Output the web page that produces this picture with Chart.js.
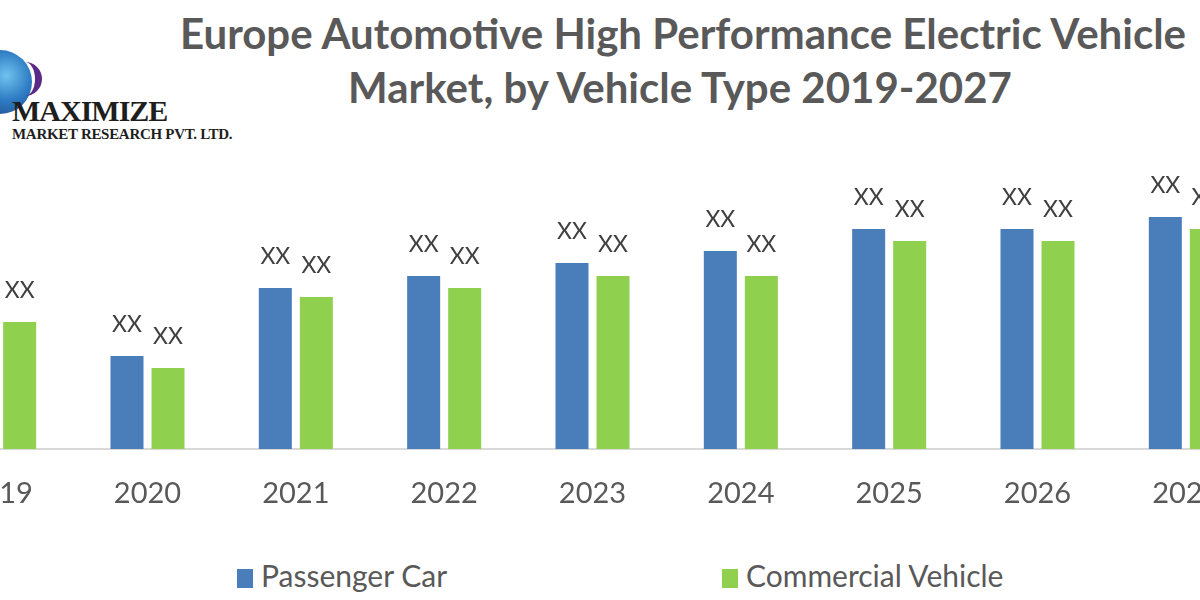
<html>
<head>
    <meta charset="utf-8">
    <script src="https://cdn.jsdelivr.net/npm/chart.js@4.4.1/dist/chart.umd.min.js"></script>
    <style>
        body { margin: 0; width: 1200px; height: 600px; overflow: hidden; background: #fff; position: relative; font-family: Lato, sans-serif; }
        #title { position: absolute; left: 180px; width: 1000px; top: 6px; text-align: center; color: #595959; font: bold 42px/54px Lato, sans-serif; white-space: nowrap; }
        #globe { position: absolute; left: -32px; top: 50px; width: 64px; height: 64px; border-radius: 50%; background: radial-gradient(circle at 60% 40%, #6fc3ee 0%, #2e7cc4 45%, #1b3e7a 100%); }
        #crescent { position: absolute; left: 8px; top: 62px; width: 34px; height: 34px; border-radius: 50%; border-right: 7px solid #5b2a86; box-sizing: border-box; }
        #logo1 { position: absolute; left: 12px; top: 94px; font: bold 30px "Liberation Serif", serif; color: #1e1e1e; letter-spacing: -1px; }
        #logo2 { position: absolute; left: 12px; top: 126px; font: bold 15px "Liberation Serif", serif; color: #1e1e1e; letter-spacing: -0.3px; }
        #chartBox { position: absolute; left: -75px; top: 149px; }
        .legend { position: absolute; top: 557px; font: 30px Lato, sans-serif; color: #595959; }
        .legend span { display: inline-block; width: 16px; height: 19px; margin-right: 8px; vertical-align: -1px; }
    </style>
</head>
<body>
<div id="globe"></div>
<div id="crescent"></div>
<div id="logo1">MAXIMIZE</div>
<div id="logo2">MARKET RESEARCH PVT. LTD.</div>
<div id="title">Europe Automotive High Performance Electric Vehicle<br>Market, by Vehicle Type 2019-2027</div>
<div id="chartBox"><canvas id="barChart" width="1335" height="380"></canvas></div>
<div class="legend" style="left:237px"><span style="background:#4a7ebb"></span>Passenger Car</div>
<div class="legend" style="left:722px"><span style="background:#8fd14f"></span>Commercial Vehicle</div>

<script type="text/javascript">
    const years = ['2019', '2020', '2021', '2022', '2023', '2024', '2025', '2026', '2027'];
    const passengerCar = [14.0, 9.3, 16.1, 17.3, 18.6, 19.8, 22.0, 22.0, 23.2];
    const commercialVehicle = [12.7, 8.1, 15.2, 16.1, 17.3, 17.3, 20.8, 20.8, 22.0];
    const valueLabel = 'XX';

    // draws the "XX" text above every bar
    const barLabels = {
        id: 'barLabels',
        afterDatasetsDraw(chart) {
            const ctx = chart.ctx;
            ctx.save();
            ctx.font = '23px Lato, sans-serif';
            ctx.fillStyle = '#404040';
            ctx.textAlign = 'center';
            ctx.textBaseline = 'alphabetic';
            chart.data.datasets.forEach((ds, i) => {
                chart.getDatasetMeta(i).data.forEach((bar) => {
                    ctx.fillText(valueLabel, bar.x, bar.y - 24);
                });
            });
            ctx.restore();
        }
    };

    new Chart(document.getElementById('barChart'), {
        type: 'bar',
        data: {
            labels: years,
            datasets: [{
                label: 'Passenger Car',
                data: passengerCar,
                backgroundColor: '#4a7ebb',
                barPercentage: 0.805,
                categoryPercentage: 0.553
            },
            {
                label: 'Commercial Vehicle',
                data: commercialVehicle,
                backgroundColor: '#8fd14f',
                barPercentage: 0.805,
                categoryPercentage: 0.553
            }]
        },
        options: {
            responsive: false,
            animation: false,
            devicePixelRatio: 1,
            layout: { padding: 0 },
            scales: {
                x: {
                    grid: { display: false, drawTicks: false, tickLength: 0 },
                    border: { display: true, color: '#d9d9d9', width: 2 },
                    ticks: { color: '#595959', font: { family: 'Lato', size: 29 }, padding: 27 },
                    afterFit: (scale) => { scale.height = 80; }
                },
                y: {
                    display: false,
                    min: 0,
                    max: 30
                }
            },
            plugins: {
                legend: { display: false },
                title: { display: false },
                tooltip: { enabled: false }
            }
        },
        plugins: [barLabels]
    });
</script>
</body>
</html>
